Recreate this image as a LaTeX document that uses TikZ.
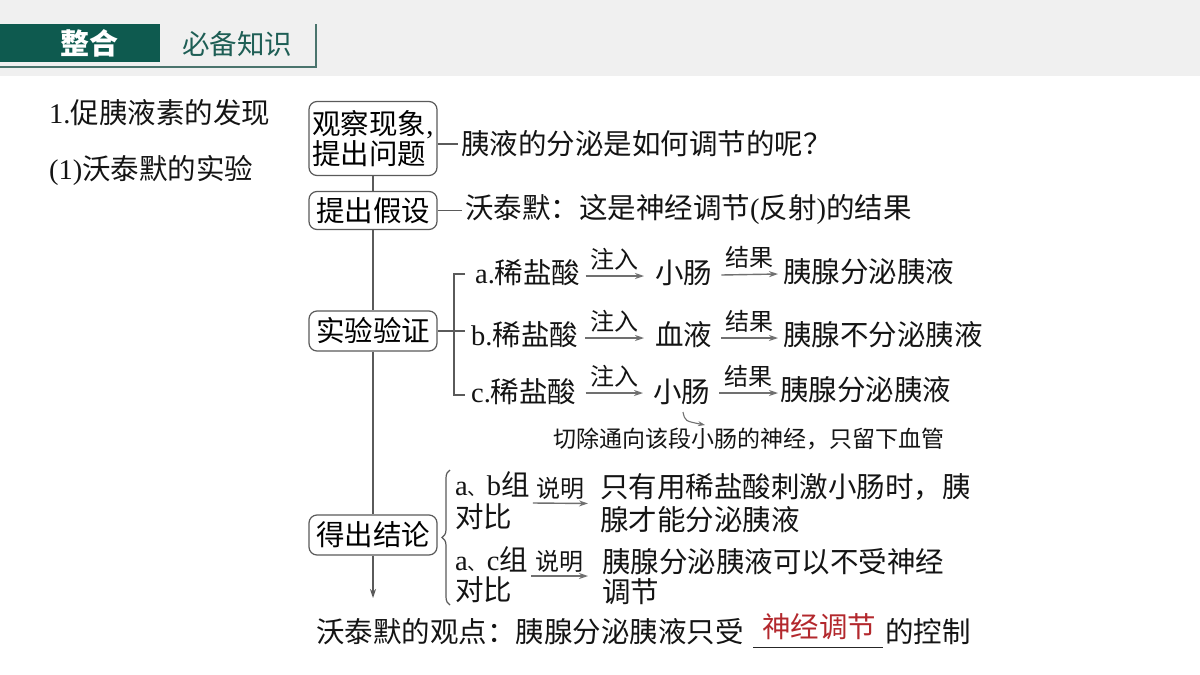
\documentclass[tikz,border=0pt]{standalone}
\usepackage{fontspec}
\setmainfont{Noto Sans CJK SC}
\newfontfamily\lat{Liberation Serif}
\usetikzlibrary{arrows.meta,decorations.pathreplacing,calc}
\definecolor{hdrgreen}{HTML}{0E5A4F}
\definecolor{hdrtext}{HTML}{1E5E55}
\definecolor{hdrline}{HTML}{4A746D}
\definecolor{bandgray}{HTML}{F0F0F0}
\definecolor{lncol}{HTML}{5A5A5A}
\definecolor{arcol}{HTML}{707070}
\definecolor{redtxt}{HTML}{B3282D}
\newcommand{\dun}{{\fontsize{19}{20}\selectfont 、}}
\begin{document}
\begin{tikzpicture}[x=1pt,y=-1pt,
  txt/.style={inner sep=0pt, anchor=west, font=\fontsize{28.5}{31}\selectfont, text=black!92},
  lbl/.style={inner sep=0pt, font=\fontsize{24}{26}\selectfont, text=black!92},
  stepbox/.style={draw=lncol, rounded corners=8pt, line width=1.2pt, minimum width=128pt,
     inner sep=3pt, font=\fontsize{28.5}{30}\selectfont, align=center},
  ln/.style={draw=lncol, line width=1.2pt},
  arr/.style={draw=arcol, line width=1.4pt, -{Stealth[length=9pt,width=6pt]}},
  brc/.style={draw=lncol, line width=1.2pt, decorate, decoration={brace, amplitude=8pt}}
]
\useasboundingbox (0,0) rectangle (1200,675);
\fill[white] (0,0) rectangle (1200,675);
\fill[bandgray] (0,0) rectangle (1200,76);

% header
\node[fill=hdrgreen, minimum width=160pt, minimum height=38pt, inner sep=0pt, anchor=north west] (hg) at (0,24) {};
\node[inner sep=0pt, text=white, font=\fontsize{29}{30}\selectfont\bfseries] (zh) at (89,43) {整合};
\node[inner sep=0pt, text=hdrtext, font=\fontsize{27.5}{29}\selectfont] (bz) at (237,44) {必备知识};
\coordinate (hl1) at (0,67);
\coordinate (hl2) at (316,67);
\coordinate (hl3) at (316,24);
\draw[hdrline, line width=1.6pt] (hl1) -- (hl2) -- (hl3);

% left headings
\node[txt] (h1) at (49,113) {{\lat 1.}促胰液素的发现};
\node[txt] (h2) at (49,170) {{\lat (1)}沃泰默的实验};

% step boxes
\node[stepbox, minimum height=74pt, align=left] (b1) at (373,138.5) {观察现象{\lat ,}\\提出问题};
\node[stepbox, minimum height=38pt] (b2) at (373,210.5) {提出假设};
\node[stepbox, minimum height=40pt] (b3) at (373,331) {实验验证};
\node[stepbox, minimum height=40pt] (b4) at (373,535) {得出结论};
\coordinate (mend) at (373,598);
\draw[ln] (b1.south) -- (b2.north);
\draw[ln] (b2.south) -- (b3.north);
\draw[ln] (b3.south) -- (b4.north);
\draw[ln, -{Stealth[length=9pt,width=6pt]}] (b4.south) -- (mend);

% side texts
\node[txt] (q1) at (461,144) {胰液的分泌是如何调节的呢？};
\node[txt] (q2) at (465,209) {沃泰默：这是神经调节{\lat (}反射{\lat )}的结果};
\draw[ln] (b1.east |- q1.west) -- ([xshift=-3pt]q1.west);
\draw[ln] (b2.east) -- ([xshift=-3pt]q2.west |- b2.east);

% bracket
\coordinate (ta) at (465,274);
\coordinate (tb) at (465,331);
\coordinate (tc) at (465,395);
\draw[ln] (ta) -- ++(-11,0) |- (tc);
\draw[ln] (b3.east) -- (tb);

% rows
\node[txt] (ra) at (475,273) {{\lat a.}稀盐酸};
\node[txt] (ra2) at (655,273) {小肠};
\node[txt] (ra3) at (783,272) {胰腺分泌胰液};
\node[txt] (rb) at (471,335) {{\lat b.}稀盐酸};
\node[txt] (rb2) at (655,335) {血液};
\node[txt] (rb3) at (783,335) {胰腺不分泌胰液};
\node[txt] (rc) at (471,392) {{\lat c.}稀盐酸};
\node[txt] (rc2) at (653,392) {小肠};
\node[txt] (rc3) at (780,390) {胰腺分泌胰液};

\draw[arr] ($(ra.east)+(5,3)$) -- ($(ra2.west)+(-11,3)$) node[midway, above=5pt, lbl] (la1) {注入};
\draw[arr] ($(ra2.east)+(9,2)$) -- ($(ra3.west)+(-5,2)$) node[midway, above=5pt, lbl] (la2) {结果};
\draw[arr] ($(rb.east)+(7,3)$) -- ($(rb2.west)+(-11,3)$) node[midway, above=5pt, lbl] (lb1) {注入};
\draw[arr] ($(rb2.east)+(9,3)$) -- ($(rb3.west)+(-5,3)$) node[midway, above=5pt, lbl] (lb2) {结果};
\draw[arr] ($(rc.east)+(9,1)$) -- ($(rc2.west)+(-10,1)$) node[midway, above=5pt, lbl] (lc1) {注入};
\draw[arr] ($(rc2.east)+(9,1)$) -- ($(rc3.west)+(-2,3)$) node[midway, above=5pt, lbl] (lc2) {结果};

% note
\coordinate (ca) at (683,412);
\coordinate (cb) at (705,425);
\draw[draw=arcol, line width=1.1pt, -{Stealth[length=7pt,width=5pt]}] (ca) .. controls (685,421) .. (cb);
\node[inner sep=0pt, anchor=west, font=\fontsize{23}{25}\selectfont, text=black!92] (note) at (553,439) {切除通向该段小肠的神经，只留下血管};

% brace and conclusions
\coordinate (bra) at (450,605);
\coordinate (brb) at (450,470);
\draw[brc] (bra) -- (brb);
\node[txt, align=left, font=\fontsize{28.5}{32}\selectfont] (g1) at (455,501) {{\lat a}\dun{\lat b}组\\对比};
\node[txt, align=left, font=\fontsize{28.5}{33}\selectfont] (r1) at (600,503.5) {只有用稀盐酸刺激小肠时，胰\\腺才能分泌胰液};
\draw[arr] ($(g1.east)+(3,2)$) -- ($(r1.west)+(-12,0)$) node[midway, above=3pt, lbl] (s1) {说明};
\node[txt, align=left, font=\fontsize{28.5}{30}\selectfont] (g2) at (455,575) {{\lat a}\dun{\lat c}组\\对比};
\node[txt, align=left, font=\fontsize{28.5}{30}\selectfont] (r2) at (602,577) {胰腺分泌胰液可以不受神经\\调节};
\draw[arr] ($(g2.east)+(3,1)$) -- ($(r2.west)+(-14,-1)$) node[midway, above=3pt, lbl] (s2) {说明};

% final line
\node[txt] (f1) at (316,632) {沃泰默的观点：胰腺分泌胰液只受};
\node[txt, text=redtxt] (f2) at (762,627) {神经调节};
\node[txt] (f3) at (885,632) {的控制};
\coordinate (u1) at (753,647);
\coordinate (u2) at (883,647);
\draw[black!85, line width=1pt] (u1) -- (u2);
\end{tikzpicture}
\end{document}
